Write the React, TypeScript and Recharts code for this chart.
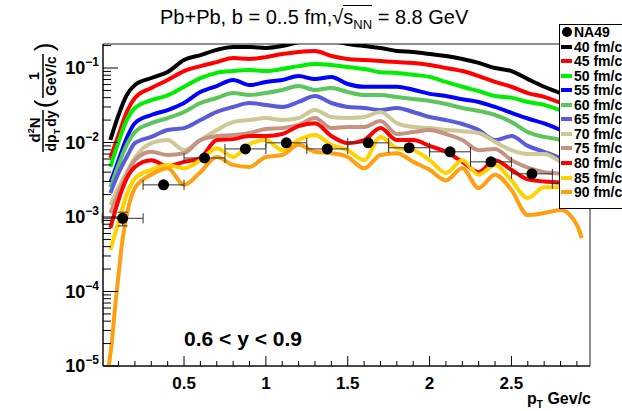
import React from 'react';
import { ComposedChart, Line, Scatter, XAxis, YAxis, ErrorBar, ReferenceArea } from 'recharts';

const W = 622;
const H = 411;
const FONT = '"Liberation Sans", Arial, Helvetica, sans-serif';

// pT grid (GeV/c) shared by the 40..85 fm/c curves
const PT = [0.05, 0.1, 0.15, 0.2, 0.3, 0.4, 0.5, 0.6, 0.7, 0.8, 0.9, 1.0, 1.1, 1.2, 1.3, 1.4, 1.5, 1.6, 1.7, 1.8, 1.9, 2.0, 2.1, 2.2, 2.3, 2.4, 2.5, 2.6, 2.7, 2.8, 2.9];

const C40 = [0.0108, 0.0234, 0.0434, 0.0591, 0.0734, 0.0884, 0.128, 0.149, 0.175, 0.191, 0.191, 0.186, 0.197, 0.223, 0.238, 0.23, 0.21, 0.197, 0.186, 0.169, 0.164, 0.154, 0.145, 0.132, 0.117, 0.1, 0.091, 0.071, 0.056, 0.046, 0.037];
const C45 = [0.0062, 0.0126, 0.0257, 0.0396, 0.0539, 0.069, 0.091, 0.106, 0.12, 0.136, 0.132, 0.14, 0.154, 0.164, 0.169, 0.145, 0.132, 0.128, 0.124, 0.12, 0.117, 0.11, 0.1, 0.091, 0.078, 0.065, 0.056, 0.046, 0.041, 0.034, 0.027];
const C50 = [0.0047, 0.0102, 0.02, 0.029, 0.037, 0.043, 0.056, 0.073, 0.086, 0.091, 0.094, 0.091, 0.097, 0.106, 0.113, 0.11, 0.103, 0.097, 0.088, 0.086, 0.081, 0.076, 0.065, 0.056, 0.049, 0.042, 0.04, 0.035, 0.032, 0.027, 0.021];
const C55 = [0.0029, 0.0058, 0.0115, 0.0182, 0.0234, 0.0273, 0.0339, 0.0476, 0.0573, 0.069, 0.059, 0.065, 0.069, 0.078, 0.071, 0.076, 0.061, 0.056, 0.056, 0.056, 0.051, 0.045, 0.042, 0.038, 0.035, 0.03, 0.025, 0.021, 0.018, 0.0147, 0.0115];
const C60 = [0.0025, 0.005, 0.0093, 0.0138, 0.0182, 0.0213, 0.0257, 0.0339, 0.0396, 0.0462, 0.0434, 0.0462, 0.0507, 0.0573, 0.0507, 0.0539, 0.0476, 0.0434, 0.0434, 0.0408, 0.0384, 0.0361, 0.0329, 0.0291, 0.0265, 0.0234, 0.0188, 0.0138, 0.0119, 0.0108, 0.0084];
const C65 = [0.0021, 0.0039, 0.0064, 0.0098, 0.0119, 0.0147, 0.0156, 0.02, 0.0257, 0.03, 0.0339, 0.0319, 0.03, 0.035, 0.0421, 0.0339, 0.03, 0.0291, 0.0273, 0.0291, 0.0257, 0.022, 0.02, 0.0177, 0.0147, 0.0108, 0.0122, 0.009, 0.0075, 0.0062, 0.005];
const C70 = [0.00145, 0.0025, 0.004, 0.0062, 0.0098, 0.0108, 0.0079, 0.0108, 0.0147, 0.0188, 0.02, 0.0213, 0.02, 0.0213, 0.0273, 0.022, 0.0213, 0.022, 0.0257, 0.0182, 0.0161, 0.0156, 0.0147, 0.0142, 0.0134, 0.0102, 0.0079, 0.007, 0.007, 0.0055, 0.004];
const C75 = [0.00113, 0.0021, 0.0037, 0.0058, 0.0075, 0.0068, 0.0072, 0.0108, 0.0122, 0.0126, 0.0134, 0.0152, 0.0156, 0.0172, 0.0213, 0.0156, 0.0161, 0.0161, 0.0194, 0.013, 0.0138, 0.0147, 0.013, 0.0108, 0.0079, 0.0082, 0.0058, 0.0046, 0.004, 0.0038, 0.0031];
const C80 = [0.00071, 0.0017, 0.0033, 0.0047, 0.0058, 0.0048, 0.0055, 0.0062, 0.0108, 0.0111, 0.0122, 0.0122, 0.013, 0.0166, 0.0182, 0.0122, 0.0098, 0.0108, 0.0156, 0.0108, 0.0108, 0.009, 0.0075, 0.0055, 0.004, 0.0058, 0.0043, 0.0032, 0.003, 0.0029, 0.0023];
const C85 = [0.00036, 0.00086, 0.002, 0.0033, 0.0043, 0.005, 0.0045, 0.0058, 0.0084, 0.0064, 0.0095, 0.0108, 0.0079, 0.0108, 0.0126, 0.0093, 0.0079, 0.0058, 0.0119, 0.0084, 0.0079, 0.0058, 0.0039, 0.0058, 0.0037, 0.005, 0.0031, 0.0018, 0.0025, 0.0025, 0.002];

// 90 fm/c has its own grid (steep rise at low pT)
const PT90 = [0.04, 0.06, 0.08, 0.1, 0.12, 0.15, 0.2, 0.3, 0.4, 0.5, 0.6, 0.7, 0.8, 0.9, 1.0, 1.1, 1.2, 1.3, 1.4, 1.5, 1.6, 1.7, 1.8, 1.9, 2.0, 2.1, 2.2, 2.3, 2.4, 2.5, 2.6, 2.7, 2.8, 2.9, 2.93];
const C90 = [0.00001, 0.000022, 0.000066, 0.000166, 0.00042, 0.00106, 0.00245, 0.0037, 0.0045, 0.0027, 0.004, 0.0064, 0.005, 0.0047, 0.0064, 0.0068, 0.0093, 0.0075, 0.0072, 0.0064, 0.0045, 0.0068, 0.0072, 0.0055, 0.0043, 0.0031, 0.0045, 0.00245, 0.0037, 0.0023, 0.00106, 0.00113, 0.00124, 0.00078, 0.00052];

// NA49 data
const NA49_PT = [0.125, 0.375, 0.625, 0.875, 1.125, 1.375, 1.625, 1.875, 2.125, 2.375, 2.625, 2.875];
const NA49_Y = [0.00096, 0.0027, 0.0062, 0.0082, 0.0099, 0.0082, 0.0099, 0.0085, 0.0075, 0.0055, 0.0038, 0.0028];
const NA49_EX = [0.125, 0.125, 0.125, 0.125, 0.125, 0.125, 0.125, 0.125, 0.125, 0.125, 0.125, 0.125];
const NA49_EY = [0.0002, 0, 0, 0, 0, 0, 0, 0, 0, 0, 0, 0];

const SERIES = [
  { label: '40 fm/c', color: '#000000', x: PT, y: C40 },
  { label: '45 fm/c', color: '#ff0000', x: PT, y: C45 },
  { label: '50 fm/c', color: '#00ee00', x: PT, y: C50 },
  { label: '55 fm/c', color: '#0000ff', x: PT, y: C55 },
  { label: '60 fm/c', color: '#5cc65c', x: PT, y: C60 },
  { label: '65 fm/c', color: '#5a5adc', x: PT, y: C65 },
  { label: '70 fm/c', color: '#cdc896', x: PT, y: C70 },
  { label: '75 fm/c', color: '#c49480', x: PT, y: C75 },
  { label: '80 fm/c', color: '#ff0000', x: PT, y: C80 },
  { label: '85 fm/c', color: '#ffd200', x: PT, y: C85 },
  { label: '90 fm/c', color: '#ffa010', x: PT90, y: C90 },
];

const na49Rows = NA49_PT.map((x, i) => ({ x, y: NA49_Y[i], ex: NA49_EX[i], ey: NA49_EY[i] }));

const X_TICKS = Array.from({ length: 29 }, (_, i) => +((i + 1) / 10).toFixed(1));
const Y_TICKS: number[] = [];
for (let e = -5; e <= -1; e++) {
  for (let m = 1; m <= 9; m++) {
    const v = +(m * Math.pow(10, e)).toPrecision(3);
    if (v <= 0.21) Y_TICKS.push(v);
  }
}

function YTick(props: any) {
  const { x, y, payload } = props;
  const v = payload.value;
  const e = Math.floor(Math.log10(v) + 1e-9);
  const major = Math.abs(v / Math.pow(10, e) - 1) < 1e-6;
  return (
    <g>
      <line x1={x} y1={y} x2={x + (major ? 15 : 8)} y2={y} stroke="#000" />
      {major && (
        <text x={x - 4} y={y + 6} textAnchor="end" fontFamily={FONT} fontWeight="bold" fontSize={18} fill="#000">
          10<tspan dy={-8} fontSize={12}>{'\u2212' + -e}</tspan>
        </text>
      )}
    </g>
  );
}

function XTick(props: any) {
  const { x, y, payload } = props;
  const v = payload.value;
  const major = Math.abs(v * 2 - Math.round(v * 2)) < 1e-6;
  return (
    <g>
      <line x1={x} y1={y} x2={x} y2={y - (major ? 10 : 5)} stroke="#000" />
      {major && (
        <text x={x} y={y + 23} textAnchor="middle" fontFamily={FONT} fontWeight="bold" fontSize={17} fill="#000">
          {String(+v.toFixed(1))}
        </text>
      )}
    </g>
  );
}

const Dot = (p: any) => <circle cx={p.cx} cy={p.cy} r={5.5} fill="#000" />;

const legendRows = [{ label: 'NA49', color: '#000', dot: true }, ...SERIES.map((s) => ({ label: s.label, color: s.color, dot: false }))];

export default function App() {
  return (
    <div style={{ position: 'absolute', left: 0, top: 0, width: W, height: H, overflow: 'hidden', background: '#fff' }}>
      <ComposedChart width={W} height={H} margin={{ top: 44, right: 32, bottom: 0, left: 0 }}>
        <XAxis
          type="number"
          dataKey="x"
          domain={[0.005, 2.98]}
          allowDataOverflow
          ticks={X_TICKS}
          interval={0}
          tick={XTick}
          tickLine={false}
          tickSize={0}
          tickMargin={0}
          height={45}
          axisLine={{ stroke: '#000' }}
        />
        <YAxis
          type="number"
          dataKey="y"
          scale="log"
          domain={[1e-5, 0.21]}
          allowDataOverflow
          ticks={Y_TICKS}
          interval={0}
          tick={YTick}
          tickLine={false}
          tickSize={0}
          tickMargin={0}
          width={103}
          axisLine={{ stroke: '#000' }}
        />
        <ReferenceArea x1={0.005} x2={2.98} y1={1e-5} y2={0.21} fill="none" stroke="#222" ifOverflow="visible" />
        {SERIES.map((s) => (
          <Line
            key={s.label}
            data={s.x.map((x, i) => ({ x, y: s.y[i] }))}
            dataKey="y"
            type="monotone"
            stroke={s.color}
            strokeWidth={4}
            dot={false}
            isAnimationActive={false}
          />
        ))}
        <Scatter data={na49Rows} dataKey="y" shape={Dot} isAnimationActive={false}>
          <ErrorBar dataKey="ex" direction="x" width={5} stroke="#333" strokeWidth={1} />
          <ErrorBar dataKey="ey" direction="y" width={5} stroke="#333" strokeWidth={1} />
        </Scatter>
      </ComposedChart>

      <svg width={W} height={H} style={{ position: 'absolute', left: 0, top: 0, pointerEvents: 'none' }}>
        <g transform="translate(43,0) rotate(-90)" fontFamily={FONT} fontWeight="bold" fill="#000">
          <text x={-130} y={-3} fontSize={15} textAnchor="middle">
            d<tspan dy={-6} fontSize={9}>2</tspan>
            <tspan dy={6}>N</tspan>
          </text>
          <line x1={-152} x2={-110} y1={0} y2={0} stroke="#000" strokeWidth={1.5} />
          <text x={-131} y={13} fontSize={14} textAnchor="middle">
            dp<tspan dy={4} fontSize={9}>T</tspan>
            <tspan dy={-4} dx={2}>dy</tspan>
          </text>
          <text x={-104} y={10} fontSize={26} fontWeight="normal" textAnchor="middle">(</text>
          <text x={-76} y={-4} fontSize={14} textAnchor="middle">1</text>
          <line x1={-98} x2={-54} y1={0} y2={0} stroke="#000" strokeWidth={1.5} />
          <text x={-76} y={13} fontSize={14} textAnchor="middle">GeV/c</text>
          <text x={-47} y={10} fontSize={26} fontWeight="normal" textAnchor="middle">)</text>
        </g>
        <text x={184} y={346} fontFamily={FONT} fontWeight="bold" fontSize={21} fill="#000">0.6 &lt; y &lt; 0.9</text>
        <text x={591} y={404} textAnchor="end" fontFamily={FONT} fontWeight="bold" fontSize={16} fill="#000">
          p<tspan dy={4} fontSize={10}>T</tspan>
          <tspan dy={-4}> Gev/c</tspan>
        </text>
      </svg>

      <div
        style={{
          position: 'absolute',
          left: 160,
          top: 5,
          fontFamily: FONT,
          fontSize: 20,
          lineHeight: '24px',
          whiteSpace: 'nowrap',
          color: '#000',
        }}
      >
        Pb+Pb, b = 0..5 fm,<span>{'\u221A'}</span>
        <span style={{ borderTop: '1.3px solid #000' }}>
          s<span style={{ fontSize: 13, position: 'relative', top: 5 }}>NN</span>
        </span>{' '}
        = 8.8 GeV
      </div>

      <div
        style={{
          position: 'absolute',
          left: 559,
          top: 24,
          width: 80,
          height: 185,
          background: '#fff',
          border: '1px solid #000',
          boxSizing: 'border-box',
        }}
      >
        {legendRows.map((r, i) => (
          <div key={r.label} style={{ position: 'absolute', left: 0, top: 7 + i * 14.55 - 8, height: 16, width: 80 }}>
            <svg width={14} height={16} style={{ position: 'absolute', left: 0, top: 0 }}>
              {r.dot ? (
                <circle cx={7} cy={8} r={5} fill={r.color} />
              ) : (
                <line x1={1} x2={12} y1={8} y2={8} stroke={r.color} strokeWidth={4} />
              )}
            </svg>
            <span
              style={{
                position: 'absolute',
                left: 14,
                top: 0,
                fontFamily: FONT,
                fontWeight: 'bold',
                fontSize: 14,
                lineHeight: '16px',
                whiteSpace: 'nowrap',
              }}
            >
              {r.label}
            </span>
          </div>
        ))}
      </div>
    </div>
  );
}
